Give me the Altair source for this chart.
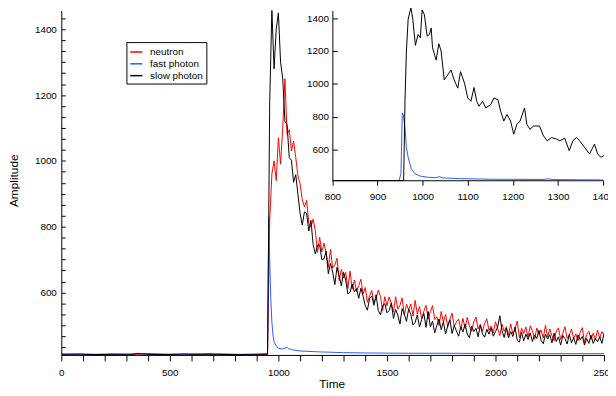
import altair as alt
import pandas as pd

# ---------------- data ----------------
series_names = ["neutron", "fast photon", "slow photon"]
series_colors = ["#ff0000", "#2a5bff", "#000000"]

# flat pre-trigger baseline
base_time = [0, 80, 160, 240, 320, 350, 400, 480, 560, 640, 720, 800, 880, 940]
neutron_base = [412, 411, 412, 413, 411, 412, 414, 412, 411, 412, 413, 412, 411, 412]
slow_base = [412, 413, 411, 412, 412, 414, 412, 411, 413, 412, 412, 411, 412, 412]

# pulse and tail, sampled every 10 time units from 950 to 2500
tail_time = list(range(950, 2510, 10))
neutron_tail = [
    412, 820, 960, 1000, 940, 1070, 990, 1100, 1250, 1080,
    1095, 1030, 1060, 1010, 955, 930, 882, 860, 880, 810,
    799, 823, 788, 721, 768, 723, 750, 719, 676, 731,
    674, 683, 704, 636, 670, 644, 661, 612, 665, 610,
    638, 602, 621, 640, 595, 615, 570, 590, 606, 567,
    581, 607, 588, 545, 587, 559, 586, 568, 540, 587,
    549, 561, 583, 531, 564, 547, 565, 528, 576, 534,
    557, 520, 543, 561, 519, 542, 560, 518, 526, 499,
    542, 510, 533, 496, 519, 537, 496, 510, 519, 488,
    521, 490, 524, 498, 482, 511, 525, 489, 503, 482,
    506, 520, 484, 498, 477, 511, 490, 469, 503, 482,
    496, 470, 504, 474, 488, 513, 462, 491, 475, 495,
    464, 499, 483, 458, 492, 472, 486, 461, 500, 465,
    489, 469, 453, 483, 492, 457, 476, 496, 460, 470,
    489, 459, 474, 453, 478, 493, 447, 472, 482, 457,
    476, 456, 486, 461, 481, 471,
]
slow_tail = [
    412, 1180, 1460, 1280, 1400, 1450, 1300, 1250, 1120, 1110,
    1010, 1002, 935, 958, 898, 840, 805, 845, 840, 787,
    819, 745, 717, 744, 745, 700, 702, 725, 657, 688,
    662, 624, 676, 651, 620, 661, 637, 595, 601, 625,
    602, 612, 582, 613, 589, 560, 546, 582, 589, 561,
    593, 545, 532, 559, 566, 538, 545, 568, 521, 548,
    531, 504, 551, 534, 512, 550, 533, 501, 509, 532,
    495, 518, 536, 494, 542, 495, 513, 477, 500, 519,
    487, 511, 474, 498, 517, 475, 499, 483, 467, 496,
    480, 504, 473, 462, 497, 481, 491, 465, 500, 474,
    464, 488, 473, 492, 467, 481, 495, 529, 484, 463,
    492, 462, 481, 466, 495, 455, 449, 479, 453, 473,
    457, 477, 451, 471, 460, 485, 454, 444, 473, 458,
    472, 447, 476, 451, 465, 440, 469, 459, 443, 473,
    447, 462, 442, 471, 456, 466, 440, 460, 445, 470,
    445, 460, 450, 465, 445, 475,
]

fast_time = [0, 100, 200, 300, 340, 350, 400, 500, 600, 690, 700, 800, 900, 950,
             953, 956, 960, 965, 970, 975, 980, 990, 1000, 1020, 1040, 1045, 1060,
             1100, 1200, 1300, 1400, 1600, 1800, 2000, 2200, 2400, 2500]
fast_vals = [412, 412, 411, 412, 413, 415, 412, 412, 412, 414, 412, 411, 412, 414,
             620, 830, 700, 580, 510, 470, 450, 438, 430, 428, 433, 430, 426,
             422, 419, 417, 416, 415, 415, 414, 414, 414, 414]

# inset (zoom of 800..1400)
inset_slow_time = [800, 900, 955, 958, 961, 964, 968, 974, 978, 984,
                   990, 995, 999, 1004, 1010, 1015, 1019, 1022, 1030, 1036,
                   1041, 1048, 1052, 1063, 1070, 1078, 1084, 1093, 1100, 1107,
                   1114, 1120, 1125, 1133, 1140, 1151, 1158, 1167, 1173, 1180,
                   1187, 1195, 1202, 1209, 1216, 1226, 1231, 1238, 1246, 1259,
                   1268, 1276, 1286, 1297, 1304, 1315, 1325, 1333, 1341, 1348,
                   1359, 1370, 1381, 1388, 1395, 1402]
inset_slow_vals = [412, 412, 412, 413, 900, 1194, 1394, 1464, 1400, 1234,
                   1300, 1280, 1450, 1420, 1290, 1300, 1340, 1220, 1144, 1244,
                   1200, 1024, 1040, 1084, 1024, 974, 1074, 1004, 914, 894,
                   978, 894, 864, 894, 854, 874, 914, 904, 834, 774,
                   814, 774, 694, 754, 774, 854, 754, 724, 744, 744,
                   684, 654, 674, 664, 654, 670, 594, 654, 674, 654,
                   614, 574, 634, 574, 554, 564]
inset_fast_time = [800, 900, 948, 952, 955, 957, 961, 964, 968, 972,
                   975, 983, 994, 1012, 1030, 1037, 1045, 1084, 1157, 1270,
                   1278, 1290, 1400]
inset_fast_vals = [412, 412, 413, 455, 824, 815, 734, 614, 554, 514,
                   484, 454, 440, 432, 430, 436, 428, 424, 420, 419,
                   423, 418, 416]

main_y_labels = [600, 800, 1000, 1200, 1400]
main_y_minor = [round(400 + 100 * k / 3, 2) for k in range(1, 32)]
main_x_ticks = list(range(0, 2600, 100))
inset_x_ticks = [800, 900, 1000, 1100, 1200, 1300, 1400]
inset_y_ticks = [600, 800, 1000, 1200, 1400]

# ---------------- tables ----------------
main_df = pd.concat([
    pd.DataFrame({"Time": base_time + tail_time, "Amplitude": neutron_base + neutron_tail, "series": "neutron"}),
    pd.DataFrame({"Time": fast_time, "Amplitude": fast_vals, "series": "fast photon"}),
    pd.DataFrame({"Time": base_time + tail_time, "Amplitude": slow_base + slow_tail, "series": "slow photon"}),
], ignore_index=True)
inset_slow_df = pd.DataFrame({"Time": inset_slow_time, "Amplitude": inset_slow_vals})
inset_fast_df = pd.DataFrame({"Time": inset_fast_time, "Amplitude": inset_fast_vals})

# ---------------- geometry ----------------
W, H = 550, 349
IX0, IX1 = 274.7, 549.0      # inset horizontal extent inside plot area
IY1 = 172                    # inset bottom inside plot area

main_x = alt.Scale(domain=[0, 2500], nice=False, zero=False)
main_y = alt.Scale(domain=[410, 1457], nice=False, zero=False)
inset_x = alt.Scale(domain=[800, 1400], range=[IX0, IX1], nice=False, zero=False)
inset_y = alt.Scale(domain=[414, 1446], range=[IY1, 0], nice=False, zero=False)

color = alt.Color(
    "series:N",
    scale=alt.Scale(domain=series_names, range=series_colors),
    legend=alt.Legend(
        title=None, orient="none", legendX=66, legendY=32,
        strokeColor="black", fillColor="white", padding=3, cornerRadius=0,
        symbolType="stroke", symbolSize=150, symbolStrokeWidth=1.5,
        labelFont="Liberation Sans", labelFontSize=10, labelColor="black",
        labelOffset=7, rowPadding=0,
    ),
)

main_x_axis = alt.Axis(
    orient="bottom", values=main_x_ticks, format="d",
    labelExpr="datum.value % 500 === 0 ? datum.label : ''",
    tickSize=6, labelPadding=7, labelFlush=False, labelOverlap=False,
    title="Time", titleX=274, titleY=29, titleAlign="center", titleBaseline="middle",
)
main_y_axis = alt.Axis(
    orient="left", values=main_y_labels, format="d", ticks=False, tickSize=0,
    labelPadding=5, title="Amplitude", titleX=-48, titleY=172, titleAngle=270,
    titleAlign="center", titleBaseline="middle",
)
main_y_tick_axis = alt.Axis(
    orient="right", offset=-W, values=main_y_minor, labels=False, domain=False,
    tickSize=4, title=None,
)
inset_x_axis = alt.Axis(
    orient="bottom", offset=IY1 - H, values=inset_x_ticks, format="d",
    tickSize=5, labelPadding=6, labelFlush=False, labelOverlap=False, title=None,
)
inset_y_axis = alt.Axis(
    orient="left", offset=-IX0, values=inset_y_ticks, format="d",
    ticks=False, tickSize=0, labelPadding=4, title=None,
)
inset_y_tick_axis = alt.Axis(
    orient="right", offset=IX0 - W, values=inset_y_ticks, labels=False,
    domain=False, tickSize=5, title=None,
)


def main_line(name, xaxis=None, yaxis=None):
    return (
        alt.Chart(main_df)
        .transform_filter(alt.datum.series == name)
        .mark_line(strokeWidth=1, clip=True)
        .encode(
            x=alt.X("Time:Q", scale=main_x, axis=xaxis),
            y=alt.Y("Amplitude:Q", scale=main_y, axis=yaxis),
            color=color,
        )
    )


neutron_line = main_line("neutron", main_x_axis, main_y_axis)
fast_line = main_line("fast photon")
slow_line = main_line("slow photon")

main_ticks = alt.Chart(main_df).mark_line(opacity=0).encode(
    x=alt.X("Time:Q", scale=main_x, axis=None),
    y=alt.Y("Amplitude:Q", scale=main_y, axis=main_y_tick_axis),
)

inset_fast_line = alt.Chart(inset_fast_df).mark_line(strokeWidth=1, color="#2a5bff").encode(
    x=alt.X("Time:Q", scale=inset_x, axis=inset_x_axis),
    y=alt.Y("Amplitude:Q", scale=inset_y, axis=inset_y_axis),
)
inset_slow_line = alt.Chart(inset_slow_df).mark_line(strokeWidth=1, color="#000000").encode(
    x=alt.X("Time:Q", scale=inset_x, axis=None),
    y=alt.Y("Amplitude:Q", scale=inset_y, axis=None),
)
inset_ticks = alt.Chart(inset_slow_df).mark_line(opacity=0).encode(
    x=alt.X("Time:Q", scale=inset_x, axis=None),
    y=alt.Y("Amplitude:Q", scale=inset_y, axis=inset_y_tick_axis),
)

chart = (
    alt.layer(neutron_line, fast_line, slow_line, main_ticks,
              inset_fast_line, inset_slow_line, inset_ticks)
    .resolve_scale(x="independent", y="independent")
    .properties(
        width=W, height=H,
        autosize=alt.AutoSizeParams(type="none"),
        padding={"left": 54, "top": 0, "right": 4, "bottom": 35},
        background="white",
    )
    .configure_view(stroke=None)
    .configure_axis(
        labelFont="Liberation Sans", labelFontSize=10, labelColor="black",
        titleFont="Liberation Sans", titleFontSize=12, titleColor="black",
        titleFontWeight="normal", domainColor="black", tickColor="black",
        domainWidth=1, tickWidth=1, grid=False,
    )
)

chart.save("out.html", embed_options={"renderer": "svg", "actions": False})
